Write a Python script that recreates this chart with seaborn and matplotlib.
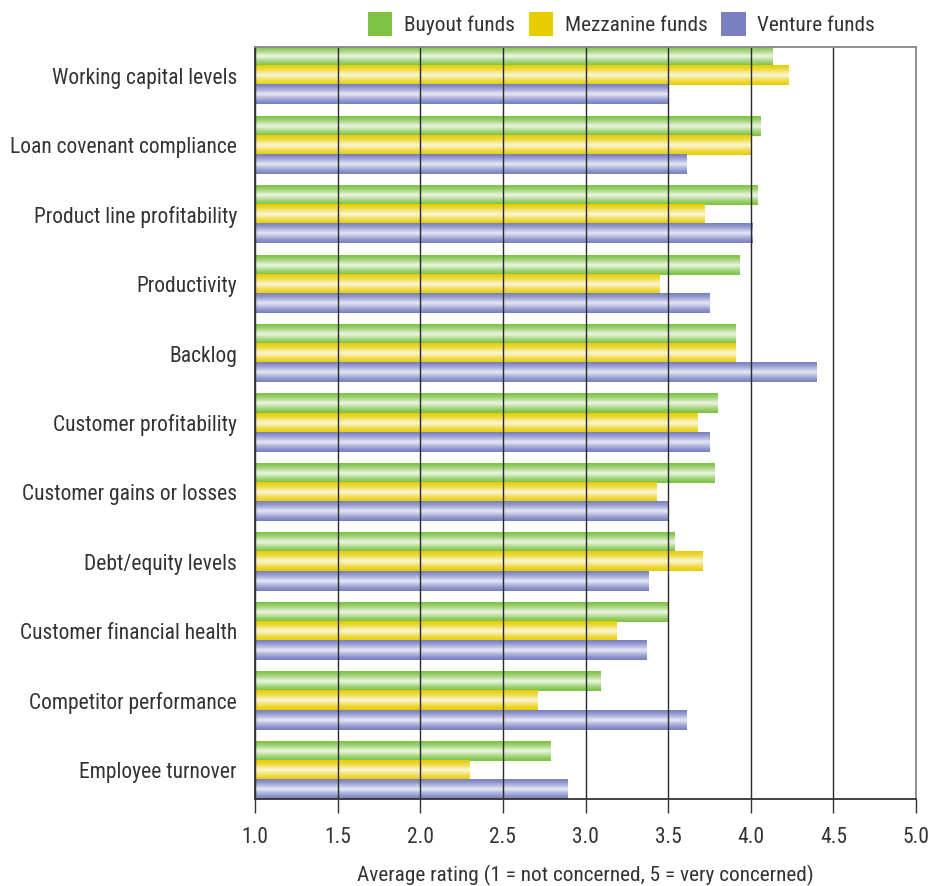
import numpy as np
import pandas as pd
import matplotlib
matplotlib.use("Agg")
import matplotlib.pyplot as plt
from matplotlib.colors import to_rgb
from matplotlib.patches import Patch
import seaborn as sns

categories = [
    "Working capital levels",
    "Loan covenant compliance",
    "Product line profitability",
    "Productivity",
    "Backlog",
    "Customer profitability",
    "Customer gains or losses",
    "Debt/equity levels",
    "Customer financial health",
    "Competitor performance",
    "Employee turnover",
]
funds = ["Buyout funds", "Mezzanine funds", "Venture funds"]
buyout = [4.13, 4.06, 4.04, 3.93, 3.91, 3.80, 3.78, 3.54, 3.50, 3.09, 2.79]
mezzanine = [4.23, 4.00, 3.72, 3.45, 3.91, 3.68, 3.43, 3.71, 3.19, 2.71, 2.30]
venture = [3.50, 3.61, 4.01, 3.75, 4.40, 3.75, 3.50, 3.38, 3.37, 3.61, 2.89]
x_ticks = [1.0, 1.5, 2.0, 2.5, 3.0, 3.5, 4.0, 4.5, 5.0]
x_label = "Average rating (1 = not concerned, 5 = very concerned)"

colors = ["#7dc242", "#e8cd00", "#7880c2"]
highlights = ["#eef6e4", "#fcf6da", "#e8e9f7"]

df = pd.DataFrame({
    "item": categories * 3,
    "fund": [f for f in funds for _ in categories],
    "rating": buyout + mezzanine + venture,
})

sns.set_theme(style="white")
plt.rcParams["font.family"] = ["Roboto Condensed", "DejaVu Sans"]
text_color = "#333333"

fig = plt.figure(figsize=(9.51, 8.86), dpi=100)
ax = fig.add_axes([255 / 951, 1 - 799 / 886, (916 - 255) / 951, (799 - 47) / 886])

group_w = 0.827
sns.barplot(data=df, y="item", x="rating", hue="fund", order=categories,
            hue_order=funds, palette=colors, orient="h", width=group_w,
            dodge=True, legend=False, ax=ax, linewidth=0, saturation=1)

# cylindrical shading: dark edges, pale centre band
n = 64
t = np.linspace(0, 1, n)
profile = (1 - np.abs(2 * t - 1)) ** 1.3
for cont, base, hi in zip(ax.containers, colors, highlights):
    b = np.array(to_rgb(base))
    h = np.array(to_rgb(hi))
    img = b[None, :] + (h - b)[None, :] * profile[:, None]
    img = img[:, None, :]
    for bar in cont:
        x0, y0 = bar.get_x(), bar.get_y()
        w, hgt = bar.get_width(), bar.get_height()
        ax.imshow(img, extent=(x0, x0 + w, y0 + hgt, y0), aspect="auto",
                  interpolation="bilinear", zorder=2)

ax.set_xlim(1.0, 5.0)
ax.set_ylim(len(categories) - 1 + group_w / 2, -group_w / 2)
ax.set_xticks(x_ticks)
ax.set_xticklabels([f"{v:.1f}" for v in x_ticks])
ax.set_axisbelow(False)
ax.xaxis.grid(True, color="#2a2a2a", linewidth=1.0, zorder=3)
ax.yaxis.grid(False)

for side in ["top", "bottom", "left", "right"]:
    ax.spines[side].set_visible(True)
    ax.spines[side].set_zorder(4)
    ax.spines[side].set_linewidth(1.3)
ax.spines["bottom"].set_color("#333333")
ax.spines["left"].set_color("#333333")
ax.spines["top"].set_color("#888888")
ax.spines["right"].set_color("#888888")

ax.tick_params(axis="x", bottom=True, length=10, width=1.0, color="#333333",
               direction="out", pad=10, labelsize=15.5, labelcolor=text_color)
ax.tick_params(axis="y", left=False, length=0, pad=13, labelsize=15.5,
               labelcolor=text_color)
ax.set_ylabel("")
ax.set_xlabel(x_label, fontsize=15.3, color=text_color, labelpad=12)

handles = [Patch(facecolor=c, edgecolor="none") for c in colors]
fig.legend(handles, funds, loc="center", bbox_to_anchor=(0.6535, 0.973),
           ncol=3, frameon=False, fontsize=15.3, handlelength=1.15,
           handleheight=1.3, handletextpad=0.55, columnspacing=0.65,
           labelcolor=text_color)

fig.savefig("out.png", dpi=100)
